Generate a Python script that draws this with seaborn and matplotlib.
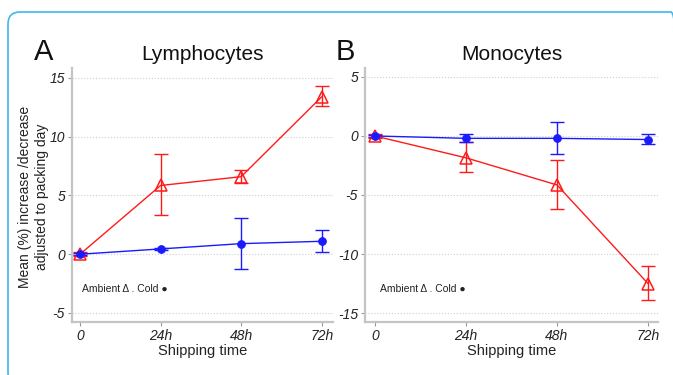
import numpy as np
import pandas as pd
import matplotlib
matplotlib.use("Agg")
import matplotlib.pyplot as plt
from matplotlib.patches import FancyBboxPatch
import seaborn as sns

# Shipping time points
times = ["0", "24h", "48h", "72h"]

# Lymphocytes: mean % change vs packing day, with error bar bounds
lym_ambient = [0.0, 5.85, 6.6, 13.4]
lym_ambient_lo = [-0.15, 3.3, 6.1, 12.6]
lym_ambient_hi = [0.15, 8.5, 7.2, 14.3]
lym_cold = [0.0, 0.45, 0.9, 1.1]
lym_cold_lo = [-0.1, 0.35, -1.3, 0.15]
lym_cold_hi = [0.1, 0.55, 3.1, 2.1]

# Monocytes: mean % change vs packing day, with error bar bounds
mon_ambient = [0.0, -1.85, -4.15, -12.5]
mon_ambient_lo = [-0.15, -3.05, -6.2, -13.9]
mon_ambient_hi = [0.15, -0.5, -2.0, -11.0]
mon_cold = [0.0, -0.2, -0.2, -0.3]
mon_cold_lo = [-0.1, -0.55, -1.55, -0.65]
mon_cold_hi = [0.1, 0.15, 1.2, 0.15]

sns.set_theme(style="white")
plt.rcParams["font.family"] = ["Liberation Sans", "DejaVu Sans"]

RED = "#ff1a1a"
BLUE = "#1a1aff"

fig = plt.figure(figsize=(6.73, 3.75), dpi=100)
fig.patch.set_facecolor("white")

# rounded frame around both panels (runs past the right and bottom edges)
frame = FancyBboxPatch((8 / 673, -10 / 375), 675 / 673, 373 / 375,
                       boxstyle="round,pad=0,rounding_size=0.018",
                       mutation_aspect=673 / 375,
                       transform=fig.transFigure, fill=False,
                       edgecolor="#3fb8ec", linewidth=1.2, clip_on=False)
fig.add_artist(frame)


def make_df(ambient, cold):
    return pd.DataFrame({
        "pos": list(range(len(times))) * 2,
        "mean": ambient + cold,
        "condition": ["Ambient"] * len(times) + ["Cold"] * len(times),
    })


def draw_panel(ax, ambient, a_lo, a_hi, cold, c_lo, c_hi, yticks, ylim, xlim,
               title, letter, letter_x, note_xy):
    df = make_df(ambient, cold)
    pos = np.arange(len(times))

    amb = df[df["condition"] == "Ambient"]
    cld = df[df["condition"] == "Cold"]

    ax.errorbar(pos, ambient,
                yerr=[np.array(ambient) - np.array(a_lo), np.array(a_hi) - np.array(ambient)],
                fmt="none", ecolor=RED, elinewidth=1.0, capsize=5, capthick=1.0, zorder=3)
    ax.errorbar(pos, cold,
                yerr=[np.array(cold) - np.array(c_lo), np.array(c_hi) - np.array(cold)],
                fmt="none", ecolor=BLUE, elinewidth=1.0, capsize=5, capthick=1.0, zorder=3)

    sns.lineplot(data=amb, x="pos", y="mean", color=RED, marker="^", markersize=8,
                 markerfacecolor="none", markeredgecolor=RED, markeredgewidth=1.1,
                 linewidth=1.0, ax=ax, zorder=4)
    sns.lineplot(data=cld, x="pos", y="mean", color=BLUE, marker="o", markersize=5.5,
                 markerfacecolor=BLUE, markeredgecolor=BLUE, linewidth=1.0, ax=ax, zorder=5)

    ax.set_xlim(*xlim)
    ax.set_ylim(*ylim)
    ax.set_xticks(pos)
    ax.set_xticklabels(times)
    ax.set_yticks(yticks)
    ax.set_yticklabels([str(v) for v in yticks])
    for lab in ax.get_xticklabels() + ax.get_yticklabels():
        lab.set_fontstyle("italic")

    ax.yaxis.grid(True, linestyle=":", color="#cfcfcf", linewidth=0.8)
    ax.xaxis.grid(False)
    ax.tick_params(axis="both", which="both", length=3, width=0.8, color="#999999",
                   labelsize=10, labelcolor="#222222", pad=2,
                   bottom=True, left=True)
    for side in ["top", "right"]:
        ax.spines[side].set_visible(False)
    for side in ["left", "bottom"]:
        ax.spines[side].set_color("#c4c4c4")
        ax.spines[side].set_linewidth(1.6)

    ax.set_xlabel("Shipping time", fontsize=10.5, color="#222222", labelpad=0.5)
    ax.set_ylabel("")
    ax.set_title(title, fontsize=15, color="#111111", pad=6)

    ax.text(note_xy[0], note_xy[1], "Ambient \u0394 . Cold \u25cf", fontsize=7.5,
            color="#222222", ha="left", va="center")

    fig.text(letter_x, 0.86, letter, fontsize=21, color="#111111", ha="left", va="center")


ax_a = fig.add_axes([72 / 673, 53 / 375, 261 / 673, 254 / 375])
ax_b = fig.add_axes([365 / 673, 53 / 375, 293 / 673, 254 / 375])

draw_panel(ax_a, lym_ambient, lym_ambient_lo, lym_ambient_hi,
           lym_cold, lym_cold_lo, lym_cold_hi,
           yticks=[-5, 0, 5, 10, 15], ylim=(-5.77, 15.85), xlim=(-0.1, 3.14),
           title="Lymphocytes", letter="A", letter_x=34 / 673, note_xy=(0.03, -3.0))
draw_panel(ax_b, mon_ambient, mon_ambient_lo, mon_ambient_hi,
           mon_cold, mon_cold_lo, mon_cold_hi,
           yticks=[-15, -10, -5, 0, 5], ylim=(-15.76, 5.76), xlim=(-0.11, 3.11),
           title="Monocytes", letter="B", letter_x=336 / 673, note_xy=(0.05, -13.0))

fig.text(25 / 673, 1 - 197 / 375, "Mean (%) increase /decrease", rotation=90, fontsize=10,
         color="#222222", ha="center", va="center")
fig.text(42 / 673, 1 - 197 / 375, "adjusted to packing day", rotation=90, fontsize=10,
         color="#222222", ha="center", va="center")

fig.savefig("out.png", dpi=100, facecolor="white")
